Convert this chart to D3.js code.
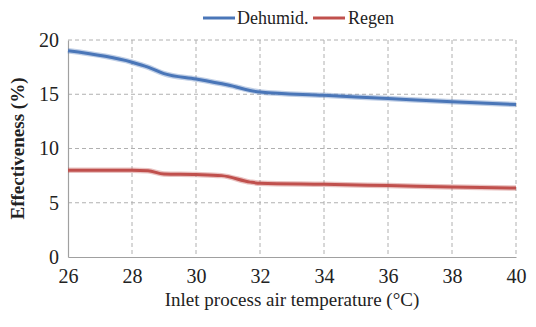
<!DOCTYPE html>
<html><head><meta charset="utf-8">
<script src="https://cdn.jsdelivr.net/npm/d3@7"></script>
<style>body{margin:0;background:#fff}svg{display:block}</style>
</head><body>
<script>
const temps = [26, 28, 28.5, 29, 30, 31, 32, 34, 36, 38, 40];
const dehumid = [19.0, 17.95, 17.5, 16.9, 16.4, 15.85, 15.2, 14.9, 14.6, 14.3, 14.05];
const regenT = [26, 28, 28.5, 29, 30, 30.8, 31.7, 32, 34, 36, 38, 40];
const regen = [8.0, 8.0, 7.95, 7.65, 7.6, 7.5, 6.9, 6.8, 6.7, 6.58, 6.45, 6.35];
const xTicks = [26, 28, 30, 32, 34, 36, 38, 40];
const yTicks = [0, 5, 10, 15, 20];
const seriesNames = ["Dehumid.", "Regen"];
const colors = ["#4a76b8", "#c0504d"];

const W = 536, H = 327;
const m = {l: 68, r: 20, t: 40, b: 70};
const FONT = "'Liberation Serif', 'Times New Roman', serif";
const svg = d3.select("body").append("svg").attr("width", W).attr("height", H);
const x = d3.scaleLinear().domain([26, 40]).range([m.l, W - m.r]);
const y = d3.scaleLinear().domain([0, 20]).range([H - m.b, m.t]);

// grid
svg.append("g").selectAll("line").data(xTicks.slice(1)).join("line")
  .attr("x1", d => x(d)).attr("x2", d => x(d)).attr("y1", y(20)).attr("y2", y(0))
  .attr("stroke", "#b0b0b0").attr("stroke-dasharray", "4,3").attr("stroke-width", 1);
svg.append("g").selectAll("line").data(yTicks.slice(1)).join("line")
  .attr("x1", x(26)).attr("x2", x(40)).attr("y1", d => y(d)).attr("y2", d => y(d))
  .attr("stroke", "#b0b0b0").attr("stroke-dasharray", "4,3").attr("stroke-width", 1);

// axes
const xAxis = svg.append("g").attr("transform", `translate(0,${y(0)})`)
  .call(d3.axisBottom(x).tickValues(xTicks).tickSize(0).tickPadding(12));
const yAxis = svg.append("g").attr("transform", `translate(${x(26)},0)`)
  .call(d3.axisLeft(y).tickValues(yTicks).tickSize(0).tickPadding(9));
[xAxis, yAxis].forEach(a => {
  a.attr("font-family", FONT);
  a.select(".domain").attr("stroke", "#a0a0a0").attr("stroke-width", 1.2);
  a.selectAll("text").style("font-family", FONT).style("font-size", "20px").attr("fill", "#222");
});

// lines
const line = d3.line().curve(d3.curveMonotoneX);
const data = [temps.map((t, i) => [x(t), y(dehumid[i])]), regenT.map((t, i) => [x(t), y(regen[i])])];
data.forEach((pts, i) => {
  svg.append("path").attr("d", line(pts)).attr("fill", "none")
    .attr("stroke", colors[i]).attr("stroke-opacity", 0.35).attr("stroke-width", 5.5);
  svg.append("path").attr("d", line(pts)).attr("fill", "none")
    .attr("stroke", colors[i]).attr("stroke-width", 3);
});

// legend
const leg = [{x: 203, tx: 237}, {x: 313, tx: 348}];
seriesNames.forEach((n, i) => {
  svg.append("line").attr("x1", leg[i].x).attr("x2", leg[i].x + 32).attr("y1", 18).attr("y2", 18)
    .attr("stroke", colors[i]).attr("stroke-width", 3);
  svg.append("text").attr("x", leg[i].tx).attr("y", 24).text(n)
    .style("font-family", FONT).style("font-size", "18px").attr("fill", "#222");
});

// titles
svg.append("text").attr("x", (x(26) + x(40)) / 2).attr("y", 306).attr("text-anchor", "middle")
  .style("font-family", FONT).style("font-size", "19px").attr("fill", "#222")
  .text("Inlet process air temperature (°C)");
svg.append("text").attr("transform", `translate(24,${(y(0) + y(20)) / 2}) rotate(-90)`)
  .attr("text-anchor", "middle").style("font-family", FONT).style("font-size", "19px")
  .style("font-weight", "bold").attr("fill", "#222").text("Effectiveness (%)");
</script>
</body></html>
